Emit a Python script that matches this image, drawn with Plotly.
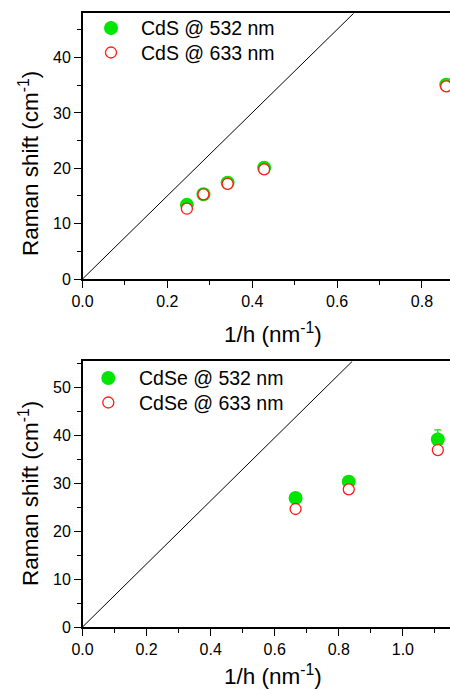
import plotly.graph_objects as go

# ---- data ----
cds_x = [0.246, 0.285, 0.342, 0.428, 0.857]
cds_532 = [13.4, 15.3, 17.4, 20.1, 35.1]
cds_633 = [12.7, 15.3, 17.2, 19.8, 34.8]
cds_line_x = [0.0, 0.639]
cds_line_y = [0.0, 48.0]

cdse_x = [0.665, 0.831, 1.109]
cdse_532 = [26.9, 30.3, 39.1]
cdse_532_err = [0.3, 0.3, 2.0]
cdse_633 = [24.6, 28.7, 36.9]
cdse_line_x = [0.0, 0.842]
cdse_line_y = [0.0, 55.4]

W, H = 450, 690
FONT = "Liberation Sans, Arial, sans-serif"
GREEN = "#00e600"
RED = "#ff1a1a"
G_SIZE, R_SIZE = 14, 11

fig = go.Figure()

def add_panel(xa, ya, lx, ly, x, g, r, gerr=None):
    fig.add_trace(go.Scatter(x=lx, y=ly, mode="lines", line=dict(color="black", width=1),
                             xaxis=xa, yaxis=ya, showlegend=False, hoverinfo="skip"))
    ek = dict(type="data", array=gerr, color=GREEN, thickness=1.2, width=3.5) if gerr else None
    fig.add_trace(go.Scatter(x=x, y=g, mode="markers", xaxis=xa, yaxis=ya,
                             marker=dict(size=G_SIZE, color=GREEN, line=dict(width=0)),
                             error_y=ek, showlegend=False))
    fig.add_trace(go.Scatter(x=x, y=r, mode="markers", xaxis=xa, yaxis=ya,
                             marker=dict(size=R_SIZE, color="white", line=dict(width=1.3, color=RED)),
                             showlegend=False))

add_panel("x", "y", cds_line_x, cds_line_y, cds_x, cds_532, cds_633)
add_panel("x2", "y2", cdse_line_x, cdse_line_y, cdse_x, cdse_532, cdse_633, cdse_532_err)

x0 = 82.5 / W
minor = dict(ticks="outside", ticklen=3.5, tickwidth=1.3, tickcolor="black")
common = dict(showline=True, linecolor="black", linewidth=2,
              ticks="outside", ticklen=6.5, tickwidth=1.3, tickcolor="black",
              showgrid=False, zeroline=False, automargin=False,
              tickfont=dict(family=FONT, size=16, color="black"))

top_dom = [1 - 279 / H, 1 - 13.3 / H]
bot_dom = [1 - 627 / H, 1 - 361.3 / H]

fig.update_layout(
    width=W, height=H, margin=dict(l=0, r=0, t=0, b=0),
    paper_bgcolor="white", plot_bgcolor="rgba(0,0,0,0)", showlegend=False,
    xaxis=dict(common, mirror=True, domain=[x0, 1], range=[0, 0.866], anchor="y",
               tickvals=[0, 0.2, 0.4, 0.6, 0.8], ticktext=["0.0", "0.2", "0.4", "0.6", "0.8"],
               minor=dict(minor, dtick=0.1, tick0=0)),
    yaxis=dict(common, domain=top_dom, range=[0, 48], anchor="x",
               tickvals=[0, 10, 20, 30, 40],
               minor=dict(minor, dtick=5, tick0=0)),
    xaxis2=dict(common, mirror=True, domain=[x0, 1], range=[0, 1.147], anchor="y2",
                tickvals=[0, 0.2, 0.4, 0.6, 0.8, 1.0],
                ticktext=["0.0", "0.2", "0.4", "0.6", "0.8", "1.0"],
                minor=dict(minor, dtick=0.1, tick0=0)),
    yaxis2=dict(common, domain=bot_dom, range=[0, 55.4], anchor="x2",
                tickvals=[0, 10, 20, 30, 40, 50],
                minor=dict(minor, dtick=5, tick0=0)),
    # full-paper helper axes for legend symbols (pixel coordinates)
    xaxis3=dict(domain=[0, 1], range=[0, W], visible=False, anchor="y3", fixedrange=True),
    yaxis3=dict(domain=[0, 1], range=[H, 0], visible=False, anchor="x3", fixedrange=True),
)

ann = []
def titles(ycenter_px, xtitle_y_px):
    ann.append(dict(text="Raman shift (cm<sup>-1</sup>)", textangle=-90, x=29 / W, y=1 - ycenter_px / H,
                    xref="paper", yref="paper", showarrow=False, xanchor="center", yanchor="middle",
                    font=dict(family=FONT, size=22.5, color="black")))
    ann.append(dict(text="1/h (nm<sup>-1</sup>)", x=273 / W, y=1 - xtitle_y_px / H,
                    xref="paper", yref="paper", showarrow=False, xanchor="center", yanchor="middle",
                    font=dict(family=FONT, size=22.5, color="black")))

titles(164, 333)
titles(494, 675)

# legend entries
leg_names = ["CdS @ 532 nm", "CdS @ 633 nm", "CdSe @ 532 nm", "CdSe @ 633 nm"]
leg_text_x = [139, 139, 136.5, 136.5]
leg_y = [28, 52.5, 378, 402.5]
leg_sym_x = [111, 111, 108.3, 108.3]
for nm, tx, ty in zip(leg_names, leg_text_x, leg_y):
    ann.append(dict(text=nm, x=tx / W, y=1 - ty / H, xref="paper", yref="paper",
                    showarrow=False, xanchor="left", yanchor="middle",
                    font=dict(family=FONT, size=19.5, color="black")))
fig.update_layout(annotations=ann)

fig.add_trace(go.Scatter(x=[leg_sym_x[0], leg_sym_x[2]], y=[leg_y[0], leg_y[2]], mode="markers",
                         marker=dict(size=G_SIZE, color=GREEN), xaxis="x3", yaxis="y3",
                         showlegend=False, hoverinfo="skip"))
fig.add_trace(go.Scatter(x=[leg_sym_x[1], leg_sym_x[3]], y=[leg_y[1], leg_y[3]], mode="markers",
                         marker=dict(size=R_SIZE, color="white", line=dict(width=1.3, color=RED)),
                         xaxis="x3", yaxis="y3", showlegend=False, hoverinfo="skip"))

fig.write_html("out.html", config={"displayModeBar": False},
               post_script="document.body.style.margin='0';")
